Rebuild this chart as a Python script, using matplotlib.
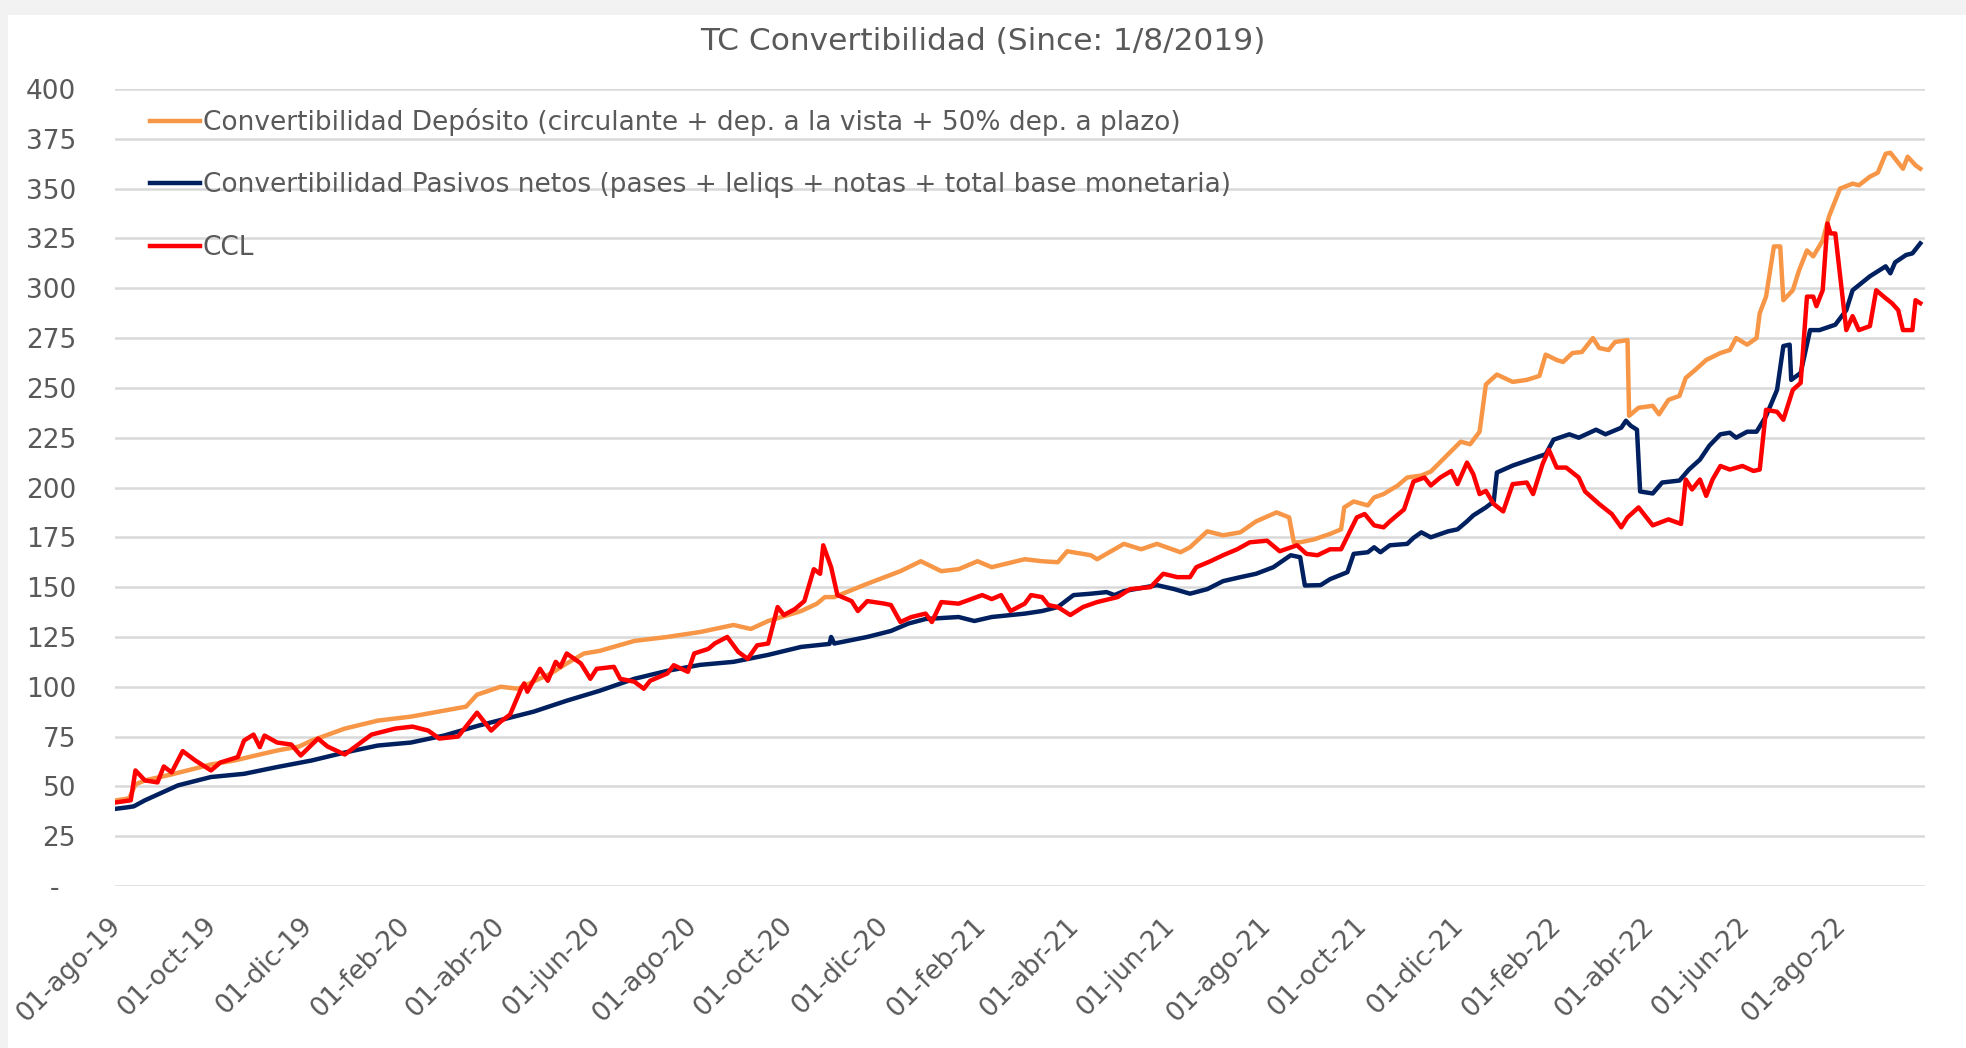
"""TC Convertibilidad chart: deposit / net liabilities convertibility vs CCL."""

import matplotlib
matplotlib.use("Agg")
import matplotlib.pyplot as plt
import pandas as pd
from matplotlib.patches import Rectangle

# --- data ---
dep_dates = [
    "2019-08-01", "2019-08-09", "2019-08-13", "2019-08-19", "2019-09-05", "2019-09-20", "2019-09-30",
    "2019-10-15", "2019-10-31", "2019-11-11", "2019-11-25", "2019-12-03", "2019-12-24", "2020-01-14",
    "2020-02-04", "2020-02-25", "2020-03-10", "2020-03-17", "2020-04-01", "2020-04-12", "2020-05-03",
    "2020-05-13", "2020-05-24", "2020-06-03", "2020-06-25", "2020-07-16", "2020-08-06", "2020-08-27",
    "2020-09-07", "2020-09-18", "2020-10-09", "2020-10-19", "2020-10-24", "2020-10-30", "2020-11-20",
    "2020-12-11", "2020-12-24", "2021-01-06", "2021-01-17", "2021-01-29", "2021-02-07", "2021-02-28",
    "2021-03-11", "2021-03-21", "2021-03-27", "2021-04-11", "2021-04-15", "2021-05-02", "2021-05-13",
    "2021-05-23", "2021-06-07", "2021-06-13", "2021-06-24", "2021-07-04", "2021-07-15", "2021-07-25",
    "2021-08-07", "2021-08-15", "2021-08-18", "2021-08-22", "2021-08-31", "2021-09-10", "2021-09-17",
    "2021-09-19", "2021-09-25", "2021-10-04", "2021-10-08", "2021-10-14", "2021-10-23", "2021-10-29",
    "2021-11-07", "2021-11-13", "2021-11-24", "2021-12-02", "2021-12-08", "2021-12-14", "2021-12-18",
    "2021-12-25", "2022-01-04", "2022-01-13", "2022-01-21", "2022-01-25", "2022-02-01", "2022-02-05",
    "2022-02-11", "2022-02-17", "2022-02-24", "2022-02-28", "2022-03-06", "2022-03-10", "2022-03-18",
    "2022-03-19", "2022-03-25", "2022-04-03", "2022-04-07", "2022-04-13", "2022-04-20", "2022-04-24",
    "2022-04-30", "2022-05-07", "2022-05-16", "2022-05-22", "2022-05-26", "2022-06-02", "2022-06-08",
    "2022-06-10", "2022-06-14", "2022-06-19", "2022-06-23", "2022-06-25", "2022-07-01", "2022-07-05",
    "2022-07-10", "2022-07-14", "2022-07-20", "2022-07-24", "2022-07-31", "2022-08-08", "2022-08-12",
    "2022-08-19", "2022-08-24", "2022-08-29", "2022-09-01", "2022-09-09", "2022-09-12", "2022-09-17",
    "2022-09-20",
]
dep_values = [
    43, 44, 51, 53, 56, 59, 61,
    63, 66, 68, 70, 73, 79, 83,
    85, 88, 90, 96, 100, 99, 106.7,
    111.7, 116.7, 118, 123, 125, 127.5, 131,
    129, 133, 138, 141.7, 145, 145, 151.7,
    158, 163, 158, 159, 163, 160, 164,
    163, 162.5, 168, 166, 164, 171.7, 169,
    171.7, 167.5, 170, 178, 176, 177.5, 183,
    187.5, 185, 172.5, 172.5, 174, 176.7, 179,
    190, 193, 191, 195, 196.7, 201, 205,
    206, 208, 216.7, 223, 221.7, 228, 251.7,
    256.7, 253, 254, 256, 266.7, 264, 263,
    267.5, 268, 275, 270, 269, 273, 274,
    236, 240, 241, 236.7, 244, 246, 255,
    259, 264, 267.5, 269, 275, 271.7, 275,
    287.5, 295.8, 321, 321, 294, 299, 309,
    319, 316, 324, 336, 350, 352.5, 351.7,
    356, 358, 367.5, 368, 360, 366, 361.7,
    360,
]

pas_dates = [
    "2019-08-01", "2019-08-08", "2019-08-12", "2019-08-19", "2019-09-09", "2019-09-30", "2019-10-21",
    "2019-11-11", "2019-12-03", "2019-12-24", "2020-01-14", "2020-02-04", "2020-02-25", "2020-03-18",
    "2020-04-01", "2020-04-22", "2020-05-13", "2020-06-03", "2020-06-25", "2020-07-16", "2020-08-06",
    "2020-08-27", "2020-09-18", "2020-10-09", "2020-10-27", "2020-10-28", "2020-10-30", "2020-11-20",
    "2020-12-05", "2020-12-16", "2020-12-27", "2021-01-17", "2021-01-27", "2021-02-07", "2021-02-28",
    "2021-03-11", "2021-03-21", "2021-03-31", "2021-04-11", "2021-04-21", "2021-04-26", "2021-05-02",
    "2021-05-23", "2021-06-03", "2021-06-13", "2021-06-24", "2021-07-04", "2021-07-15", "2021-07-25",
    "2021-08-05", "2021-08-16", "2021-08-22", "2021-08-25", "2021-09-04", "2021-09-10", "2021-09-21",
    "2021-09-25", "2021-10-04", "2021-10-08", "2021-10-12", "2021-10-18", "2021-10-29", "2021-11-02",
    "2021-11-07", "2021-11-13", "2021-11-24", "2021-11-30", "2021-12-06", "2021-12-10", "2021-12-18",
    "2021-12-23", "2021-12-25", "2022-01-04", "2022-01-15", "2022-01-25", "2022-01-30", "2022-02-09",
    "2022-02-15", "2022-02-26", "2022-03-04", "2022-03-14", "2022-03-17", "2022-03-20", "2022-03-24",
    "2022-03-26", "2022-04-03", "2022-04-09", "2022-04-20", "2022-04-26", "2022-05-03", "2022-05-09",
    "2022-05-16", "2022-05-22", "2022-05-26", "2022-06-02", "2022-06-08", "2022-06-14", "2022-06-21",
    "2022-06-25", "2022-06-29", "2022-06-30", "2022-07-06", "2022-07-12", "2022-07-18", "2022-07-28",
    "2022-08-04", "2022-08-08", "2022-08-19", "2022-08-29", "2022-09-01", "2022-09-04", "2022-09-11",
    "2022-09-15", "2022-09-20",
]
pas_values = [
    38.8, 39.5, 40, 43, 50.5, 54.7, 56.3,
    59.7, 63, 67, 70.5, 72, 75.5, 80.5,
    83.3, 87.5, 93, 98, 104, 108, 111,
    112.5, 116, 120, 121.5, 125, 121.7, 125,
    128, 131.7, 134, 135, 133, 135, 136.7,
    138, 140, 146, 146.7, 147.5, 146, 148,
    151, 149, 146.7, 149, 153, 155, 156.7,
    160, 166, 165, 150.8, 151, 154, 157.5,
    166.7, 167.5, 170, 167.5, 171, 171.7, 174.7,
    177.5, 175, 178, 179, 183, 186, 190,
    193, 207.5, 211, 214, 216.7, 224, 226.7,
    225, 229, 226.7, 230, 233.5, 231, 229,
    198, 197, 202.5, 203.5, 209, 214, 221,
    226.7, 227.5, 225, 228, 228, 235.8, 249,
    271, 271.7, 254, 257.5, 279, 279, 281.7,
    289, 299, 306, 311, 307.5, 313, 316.7,
    317.5, 322.5,
]

ccl_dates = [
    "2019-08-01", "2019-08-10", "2019-08-13", "2019-08-19", "2019-08-27", "2019-08-31", "2019-09-05",
    "2019-09-12", "2019-09-20", "2019-09-30", "2019-10-06", "2019-10-17", "2019-10-21", "2019-10-27",
    "2019-10-31", "2019-11-03", "2019-11-11", "2019-11-20", "2019-11-26", "2019-12-07", "2019-12-13",
    "2019-12-24", "2020-01-10", "2020-01-25", "2020-02-05", "2020-02-15", "2020-02-22", "2020-03-05",
    "2020-03-17", "2020-03-26", "2020-04-01", "2020-04-07", "2020-04-14", "2020-04-16", "2020-04-18",
    "2020-04-26", "2020-05-01", "2020-05-06", "2020-05-09", "2020-05-13", "2020-05-22", "2020-05-28",
    "2020-06-01", "2020-06-12", "2020-06-16", "2020-06-25", "2020-07-01", "2020-07-05", "2020-07-16",
    "2020-07-20", "2020-07-29", "2020-08-02", "2020-08-11", "2020-08-15", "2020-08-23", "2020-08-30",
    "2020-09-05", "2020-09-11", "2020-09-18", "2020-09-24", "2020-09-28", "2020-10-05", "2020-10-11",
    "2020-10-17", "2020-10-21", "2020-10-23", "2020-10-28", "2020-11-01", "2020-11-10", "2020-11-14",
    "2020-11-20", "2020-12-01", "2020-12-05", "2020-12-11", "2020-12-18", "2020-12-27", "2020-12-31",
    "2021-01-06", "2021-01-17", "2021-02-01", "2021-02-07", "2021-02-13", "2021-02-19", "2021-02-28",
    "2021-03-04", "2021-03-11", "2021-03-15", "2021-03-21", "2021-03-29", "2021-04-06", "2021-04-15",
    "2021-04-28", "2021-05-06", "2021-05-19", "2021-05-27", "2021-06-05", "2021-06-13", "2021-06-17",
    "2021-06-26", "2021-07-04", "2021-07-13", "2021-07-21", "2021-08-01", "2021-08-09", "2021-08-20",
    "2021-08-26", "2021-09-02", "2021-09-10", "2021-09-17", "2021-09-27", "2021-10-02", "2021-10-08",
    "2021-10-14", "2021-10-18", "2021-10-27", "2021-11-02", "2021-11-09", "2021-11-13", "2021-11-19",
    "2021-11-26", "2021-11-30", "2021-12-06", "2021-12-10", "2021-12-14", "2021-12-18", "2021-12-23",
    "2021-12-29", "2022-01-04", "2022-01-13", "2022-01-17", "2022-01-23", "2022-01-27", "2022-02-01",
    "2022-02-07", "2022-02-15", "2022-02-19", "2022-02-28", "2022-03-08", "2022-03-14", "2022-03-18",
    "2022-03-25", "2022-04-03", "2022-04-13", "2022-04-21", "2022-04-24", "2022-04-28", "2022-05-03",
    "2022-05-07", "2022-05-11", "2022-05-16", "2022-05-22", "2022-05-30", "2022-06-06", "2022-06-10",
    "2022-06-14", "2022-06-21", "2022-06-25", "2022-07-01", "2022-07-06", "2022-07-10", "2022-07-14",
    "2022-07-16", "2022-07-20", "2022-07-23", "2022-07-25", "2022-07-28", "2022-08-04", "2022-08-08",
    "2022-08-12", "2022-08-19", "2022-08-23", "2022-08-29", "2022-09-02", "2022-09-06", "2022-09-09",
    "2022-09-15", "2022-09-17", "2022-09-20",
]
ccl_values = [
    42, 43, 58, 53, 52, 60, 57,
    67.7, 63, 58, 62, 64.7, 73, 76,
    69.7, 75.5, 72, 71, 65.5, 74, 70,
    66, 76, 79, 80, 78, 74, 75,
    87, 78, 82.5, 86, 99, 101.7, 97.5,
    109, 103, 112.5, 110, 116.7, 111.7, 104,
    109, 110, 104, 102.5, 99, 103, 106.7,
    110.8, 107.5, 116.7, 119, 121.7, 125, 117.5,
    114, 120.8, 121.7, 140, 136, 139, 143,
    159, 156.7, 171, 160, 146, 143, 138,
    143, 141.7, 141, 132.5, 135, 136.7, 132.5,
    142.5, 141.7, 146, 144, 146, 138, 141.7,
    146, 145, 141, 140, 136, 140, 142.5,
    145, 149, 150, 156.7, 155, 155, 160,
    163, 166, 169, 172.5, 173.3, 168, 171,
    166.7, 166, 169, 169, 185, 186.7, 181,
    180, 183, 189, 203, 205, 201, 205,
    208.3, 201.7, 212.5, 206.7, 196.7, 198.3, 191.7,
    188, 201.7, 202.5, 196.7, 211.7, 219, 210,
    210, 205, 198, 191.7, 186.7, 180, 185,
    190, 181, 184, 181.7, 204, 199, 204,
    195.8, 204, 210.8, 209, 210.8, 208.3, 209,
    239, 238, 234, 249, 252.5, 295.8, 295.8,
    291, 299, 332.5, 327.5, 327.5, 279, 286,
    279, 281, 299, 295, 292.5, 289, 279,
    279, 294, 292.5,
]

series_labels = [
    "Convertibilidad Depósito (circulante + dep. a la vista + 50% dep. a plazo)",
    "Convertibilidad Pasivos netos (pases + leliqs + notas + total base monetaria)",
    "CCL",
]
y_ticks = list(range(0, 401, 25))

MONTHS_ES = ["ene", "feb", "mar", "abr", "may", "jun", "jul", "ago", "sep", "oct", "nov", "dic"]
TEXT_COLOR = "#595959"


def date_label(d) -> str:
    return f"{d.day:02d}-{MONTHS_ES[d.month - 1]}-{d.year % 100:02d}"


def main() -> None:
    plt.rcParams["font.family"] = ["DejaVu Sans"]

    fig = plt.figure(figsize=(19.66, 10.48), dpi=100)
    fig.patch.set_facecolor("#F2F2F2")
    # white chart area (screenshot has a thin grey border on top/left)
    fig.add_artist(Rectangle((8 / 1966, 0), 1, 1 - 15 / 1048, transform=fig.transFigure,
                             facecolor="white", edgecolor="none", zorder=-10))

    ax = fig.add_axes([115 / 1966, 1 - 886 / 1048, 1810 / 1966, 797 / 1048])
    ax.set_facecolor("none")

    ax.plot(pd.to_datetime(dep_dates), dep_values, color="#F79646", lw=3.2, label=series_labels[0])
    ax.plot(pd.to_datetime(pas_dates), pas_values, color="#002060", lw=3.2, label=series_labels[1])
    ax.plot(pd.to_datetime(ccl_dates), ccl_values, color="#FF0000", lw=3.2, label=series_labels[2])

    ax.set_ylim(0, 400)
    ax.set_yticks(y_ticks)
    ax.set_yticklabels(["-  "] + [str(v) for v in y_ticks[1:]])
    ax.set_xlim(pd.Timestamp("2019-07-31"), pd.Timestamp("2022-09-23"))

    ticks = pd.date_range("2019-08-01", "2022-08-01", freq="2MS")
    ax.set_xticks(ticks)
    ax.set_xticklabels([date_label(t) for t in ticks], rotation=45, ha="right", va="center",
                       rotation_mode="anchor")

    ax.grid(axis="y", color="#D9D9D9", lw=1.8)
    ax.set_axisbelow(True)
    for side in ax.spines.values():
        side.set_visible(False)
    ax.tick_params(axis="y", length=0, pad=28, labelsize=19, labelcolor=TEXT_COLOR)
    ax.tick_params(axis="x", length=0, pad=26, labelsize=19, labelcolor=TEXT_COLOR)

    fig.text(0.5, 1 - 41 / 1048, "TC Convertibilidad (Since: 1/8/2019)", ha="center", va="center",
             fontsize=22.5, color=TEXT_COLOR)

    ax.legend(loc="upper left", bbox_to_anchor=(150 / 1966, 1 - 108 / 1048),
              bbox_transform=fig.transFigure, frameon=False, fontsize=19,
              labelcolor=TEXT_COLOR, handlelength=1.9, handletextpad=0.1,
              labelspacing=1.38, borderpad=0, borderaxespad=0)

    fig.savefig("out.png", dpi=100)
    plt.close(fig)


if __name__ == "__main__":
    main()
